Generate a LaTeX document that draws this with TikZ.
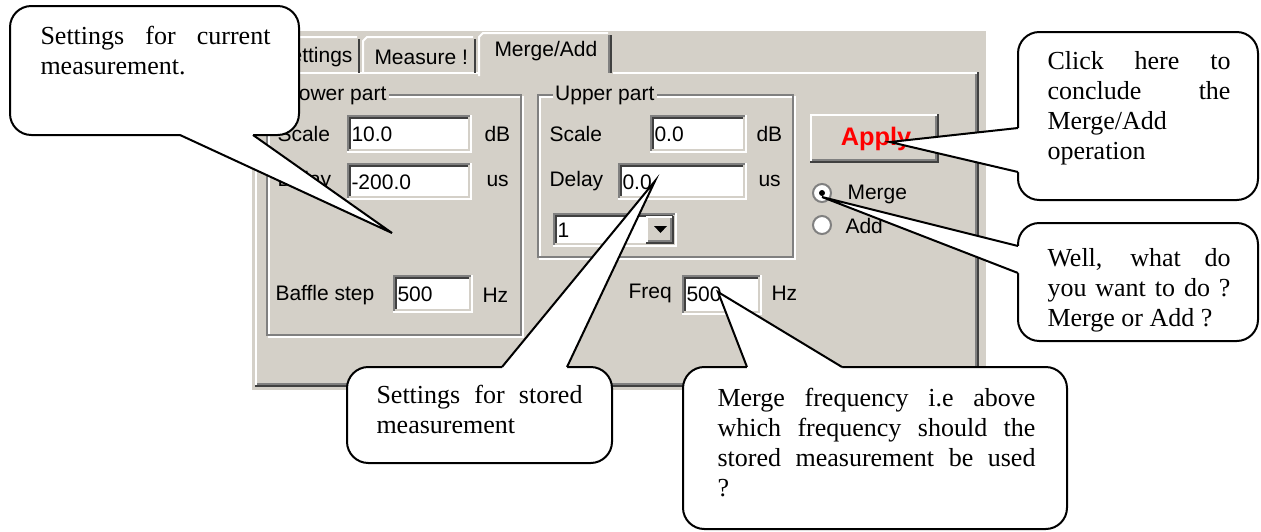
\documentclass[tikz,border=0pt]{standalone}
\usepackage{fontspec}
\setmainfont{Liberation Serif}
\newfontfamily\guifamily{Liberation Sans}

\definecolor{winface}{RGB}{212,208,200}
\definecolor{winshadow}{RGB}{128,128,128}
\definecolor{windark}{RGB}{64,64,64}

\newcommand{\notefont}{\fontsize{19.5}{22.5}\selectfont}
\newcommand{\guifont}{\guifamily\fontsize{15.75}{18}\selectfont}

\tikzset{every picture/.style={line width=0.75pt}}
\tikzset{
  bevelline/.style={line width=1.5},
  bubble/.style={draw=black, fill=white, line width=1.5, rounded corners=16pt},
  bubblelink/.style={draw=black, line width=1.5, line join=miter},
  notetext/.style={anchor=base west, inner sep=0pt, align=justify, font=\notefont},
  guitext/.style={anchor=west, inner sep=0pt, font=\guifont},
}

% sunken edit field: x1 y1 x2 y2
\newcommand{\sunkenbox}[4]{%
  \fill[white] (#1,#2) rectangle (#3,#4);
  \draw[bevelline, winshadow] (#1+1,#4) -- (#1+1,#2+1) -- (#3,#2+1);
  \draw[bevelline, windark] (#1+3,#4-2) -- (#1+3,#2+3) -- (#3-2,#2+3);
  \draw[bevelline, white] (#1,#4-1) -- (#3-1,#4-1) -- (#3-1,#2);
  \draw[bevelline, winface] (#1+2,#4-3) -- (#3-3,#4-3) -- (#3-3,#2+2);
}
% raised button: x1 y1 x2 y2
\newcommand{\raisedbox}[4]{%
  \fill[winface] (#1,#2) rectangle (#3,#4);
  \draw[bevelline, white] (#1+1,#4-2) -- (#1+1,#2+1) -- (#3-2,#2+1);
  \draw[bevelline, winshadow] (#1+2,#4-3) -- (#3-3,#4-3) -- (#3-3,#2+2);
  \draw[bevelline, windark] (#1,#4-1) -- (#3-1,#4-1) -- (#3-1,#2);
}

\begin{document}
\begin{tikzpicture}[x=0.75pt,y=0.75pt,yscale=-1,xscale=1]
\useasboundingbox (0,0) rectangle (1261,532);

%Shape: dialog face
\fill[winface] (252,31) rectangle (986,390);

%Shape: tab page frame
\draw[bevelline, white] (256,386) -- (256,73) -- (478,73);
\draw[bevelline, white] (613,73) -- (977,73);
\draw[bevelline, winshadow] (257,384) -- (976,384) -- (976,74);
\draw[bevelline, windark] (255,386) -- (978,386) -- (978,72);

%Shape: tabs
\draw[bevelline, white] (254,73) -- (254,41) -- (258,37) -- (357,37);
\draw[bevelline, windark] (359,39) -- (359,73);
\draw[bevelline, white] (363,73) -- (363,41) -- (367,37) -- (473,37);
\draw[bevelline, windark] (475,39) -- (475,73);
\fill[winface] (478,33) rectangle (612,76);
\draw[bevelline, white] (479,76) -- (479,37) -- (483,33) -- (608,33);
\draw[bevelline, winshadow] (609,35) -- (609,73);
\draw[bevelline, windark] (611,35) -- (611,73);

% Text Node
\node[guitext, anchor=east] (tabsettings) at (353,57) {Settings};
% Text Node
\node[guitext] (tabmeasure) at (374,57) {Measure !};
% Text Node
\node[guitext] (tabmerge) at (494,51) {Merge/Add};

%Shape: group boxes
\draw[bevelline, white] (269,97) rectangle (523,337);
\draw[bevelline, winshadow] (267,95) rectangle (521,335);
\draw[bevelline, white] (540,97) rectangle (795,259);
\draw[bevelline, winshadow] (538,95) rectangle (793,257);

% Text Node
\node[guitext, fill=winface, inner xsep=2pt, inner ysep=1pt] (lowergroup) at (284,95) {Lower part};
% Text Node
\node[guitext, fill=winface, inner xsep=2pt, inner ysep=1pt] (uppergroup) at (552,95) {Upper part};

%Lower part fields
\sunkenbox{347}{115}{472}{153}
\sunkenbox{347}{163}{472}{200}
\sunkenbox{393}{275}{473}{313}
\node[guitext] (lowscale) at (277,134) {Scale};
\node[guitext] (lowscalefield) at (351,134) {10.0};
\node[guitext] (lowscaleunit) at (484,134) {dB};
\node[guitext] (lowdelay) at (277,181) {Delay};
\node[guitext] (lowdelayfield) at (351,182) {-200.0};
\node[guitext] (lowdelayunit) at (486,181) {us};
\node[guitext] (bafflestep) at (275,295) {Baffle step};
\node[guitext] (bafflefield) at (397,294) {500};
\node[guitext] (baffleunit) at (482,295) {Hz};

%Upper part fields
\sunkenbox{650}{115}{747}{153}
\sunkenbox{618}{163}{747}{200}
\sunkenbox{553}{213}{677}{247}
\raisedbox{646}{216}{674}{244}
\fill (654,226) -- (667,226) -- (660.5,233) -- cycle;
\node[guitext] (upscale) at (549,134) {Scale};
\node[guitext] (upscalefield) at (654,134) {0.0};
\node[guitext] (upscaleunit) at (756,134) {dB};
\node[guitext] (updelay) at (549,181) {Delay};
\node[guitext] (updelayfield) at (622,182) {0.0};
\node[guitext] (updelayunit) at (758,181) {us};
\node[guitext] (upcombo) at (557,230) {1};

%Merge frequency field
\sunkenbox{682}{275}{762}{315}
\node[guitext] (freq) at (628,293) {Freq};
\node[guitext] (freqfield) at (686,294) {500};
\node[guitext] (frequnit) at (771,293) {Hz};

%Apply button
\raisedbox{810}{114}{939}{163}
\node[guitext, anchor=center, font=\guifamily\fontsize{19}{22}\selectfont\bfseries, text=red] (applybtn) at (876,139) {Apply};

%Radio buttons
\fill[white] (822,193) circle (9);
\draw[bevelline, winshadow] (822,193) circle (9);
\fill (822,193) circle (3);
\fill[white] (822,225) circle (9);
\draw[bevelline, winshadow] (822,225) circle (9);
\node[guitext] (mergeradio) at (847,194) {Merge};
\node[guitext] (addradio) at (845,226) {Add};

%Callout: current measurement
\coordinate (curtip) at (392,233);
\draw[bubble] (10,6) rectangle (299,135);
\fill[white] (180,131) -- (180,135) -- (curtip) -- (253,135) -- (253,131) -- cycle;
\draw[bubblelink] (180,135) -- (curtip) -- (253,135);
\node[notetext, text width=172.5pt] (curnote) at (40,44) {Settings for current\linebreak measurement.};

%Callout: stored measurement
\coordinate (storedtip) at (655,181);
\draw[bubble] (347,367) rectangle (612,463);
\fill[white] (502,371) -- (502,367) -- (storedtip) -- (567,367) -- (567,371) -- cycle;
\draw[bubblelink] (502,367) -- (storedtip) -- (567,367);
\node[notetext, text width=154.5pt] (storednote) at (376,403) {Settings for stored\linebreak measurement};

%Callout: merge frequency
\coordinate (freqtip) at (718,292);
\draw[bubble] (683,367) rectangle (1067,529);
\fill[white] (747,371) -- (747,367) -- (freqtip) -- (842,367) -- (842,371) -- cycle;
\draw[bubblelink] (747,367) -- (freqtip) -- (842,367);
\node[notetext, text width=238.5pt] (freqnote) at (717,406) {Merge frequency i.e above\linebreak which frequency should the\linebreak stored measurement be used\linebreak ?};

%Callout: apply
\coordinate (applytip) at (890,142);
\draw[bubble] (1018,32) rectangle (1258,200);
\fill[white] (1022,128) -- (1018,128) -- (applytip) -- (1018,172) -- (1022,172) -- cycle;
\draw[bubblelink] (1018,128) -- (applytip) -- (1018,172);
\node[notetext, text width=137.25pt] (applynote) at (1047,69) {Click here to\linebreak conclude the\linebreak Merge/Add\newline operation};

%Callout: merge or add
\coordinate (radiotip) at (822,197);
\draw[bubble] (1018,223) rectangle (1258,341);
\fill[white] (1022,246) -- (1018,246) -- (radiotip) -- (1018,273) -- (1022,273) -- cycle;
\draw[bubblelink] (1018,246) -- (radiotip) -- (1018,273);
\node[notetext, text width=137.25pt] (radionote) at (1047,266) {Well, what do\linebreak you want to do ?\linebreak Merge or Add ?};

\end{tikzpicture}
\end{document}
